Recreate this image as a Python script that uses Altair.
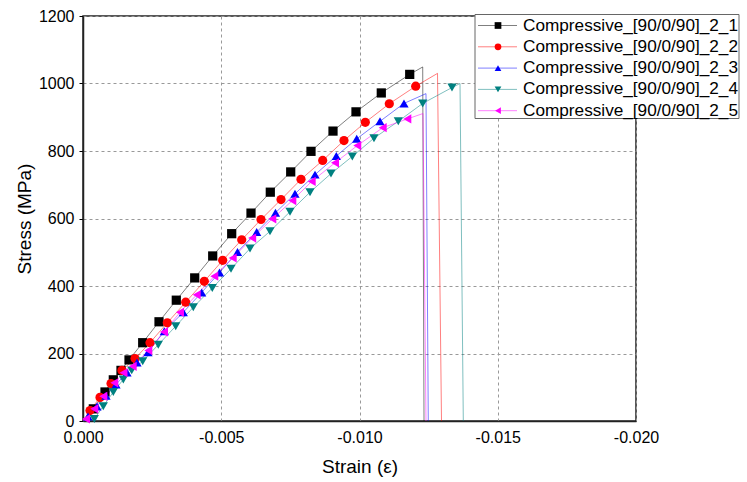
import altair as alt
import pandas as pd

names = [
    "Compressive_[90/0/90]_2_1",
    "Compressive_[90/0/90]_2_2",
    "Compressive_[90/0/90]_2_3",
    "Compressive_[90/0/90]_2_4",
    "Compressive_[90/0/90]_2_5",
]
colors = ["#000000", "#ff0000", "#0000ff", "#008080", "#ff00ff"]
shapes = ["square", "circle", "triangle-up", "triangle-down", "triangle-left"]

# marker points (strain, stress); last two values per series are peak and failure (no marker)
s1_strain = [-0.000373, -0.000796, -0.001096, -0.001374, -0.001664, -0.002159, -0.002749, -0.003374,
             -0.004040, -0.004691, -0.005378, -0.006076, -0.006774, -0.007512, -0.008246, -0.009042,
             -0.009873, -0.010788, -0.011816, -0.012286, -0.012333]
s1_stress = [36, 86, 122, 150, 181, 232, 294, 358, 424, 489, 555, 616, 678, 738, 799, 859, 916, 972, 1027, 1049, 0]

s2_strain = [-0.000253, -0.000615, -0.001013, -0.001410, -0.001881, -0.002423, -0.003049, -0.003714,
             -0.004387, -0.005052, -0.005740, -0.006438, -0.007161, -0.007884, -0.008669, -0.009439,
             -0.010210, -0.011078, -0.012033, -0.012821, -0.012966]
s2_stress = [31, 70, 111, 150, 185, 232, 291, 352, 414, 476, 537, 597, 656, 716, 772, 831, 885, 940, 992, 1030, 0]

s3_strain = [-0.000181, -0.000506, -0.000832, -0.001193, -0.001591, -0.001953, -0.002351, -0.002940,
             -0.003627, -0.004293, -0.004937, -0.005588, -0.006282, -0.006962, -0.007667, -0.008391,
             -0.009161, -0.009899, -0.010741, -0.011609, -0.012405, -0.012488]
s3_stress = [13, 43, 75, 108, 144, 173, 204, 266, 322, 381, 440, 501, 560, 617, 673, 730, 785, 836, 888, 941, 970, 0]

s4_strain = [-0.000409, -0.000734, -0.001096, -0.001458, -0.001761, -0.002159, -0.002723, -0.003353,
             -0.003989, -0.004676, -0.005353, -0.006040, -0.006763, -0.007486, -0.008210, -0.008969,
             -0.009740, -0.010524, -0.011403, -0.012286, -0.013345, -0.013635, -0.013754]
s4_stress = [6, 44, 86, 123, 150, 177, 226, 281, 337, 394, 451, 511, 562, 620, 678, 733, 784, 838, 888, 941, 988, 1000, 0]

s5_strain = [-0.000108, -0.000409, -0.000734, -0.001132, -0.001465, -0.001797, -0.002362, -0.002929,
             -0.003508, -0.004112, -0.004749, -0.005414, -0.006119, -0.006846, -0.007570, -0.008271,
             -0.009114, -0.009920, -0.010839, -0.011729, -0.012297, -0.012405]
s5_stress = [6, 36, 73, 113, 143, 162, 209, 264, 322, 374, 429, 483, 542, 599, 653, 710, 765, 816, 869, 895, 911, 0]

series = [(s1_strain, s1_stress), (s2_strain, s2_stress), (s3_strain, s3_stress),
          (s4_strain, s4_stress), (s5_strain, s5_stress)]

rows = []
for name, (xs, ys) in zip(names, series):
    rows.append({"series": name, "idx": 0, "strain": 0.0, "stress": 0.0, "marker": False})
    n = len(xs)
    for i, (x, y) in enumerate(zip(xs, ys)):
        rows.append({"series": name, "idx": i + 1, "strain": x, "stress": y, "marker": i < n - 2})
df = pd.DataFrame(rows)

color_scale = alt.Scale(domain=names, range=colors)
shape_scale = alt.Scale(domain=names, range=shapes)

x_enc = alt.X("strain:Q", title="Strain (ε)",
              scale=alt.Scale(domain=[0, -0.02], nice=False),
              axis=alt.Axis(values=[0, -0.005, -0.01, -0.015, -0.02],
                            labelExpr="replace(format(datum.value, '.3f'), '\u2212', '-')",
                            labelFlush=False,
                            ticks=False, tickSize=0, labelPadding=8, titlePadding=12,
                            grid=True, gridDash=[3, 3], gridColor="#999999"))
y_enc = alt.Y("stress:Q", title="Stress (MPa)",
              scale=alt.Scale(domain=[0, 1200], nice=False),
              axis=alt.Axis(values=list(range(0, 1201, 100)),
                            labelExpr="datum.value % 200 == 0 ? format(datum.value, 'd') : ''",
                            labelFlush=False,
                            tickSize=4, tickColor="#000000", labelPadding=5, titlePadding=4,
                            grid=True, gridDash=[3, 3], gridColor="#999999",
                            gridOpacity={"condition": {"test": "datum.value % 200 != 0", "value": 0}, "value": 1}))

lines = alt.Chart(df).mark_line(strokeWidth=1, opacity=0.5).encode(
    x=x_enc, y=y_enc,
    color=alt.Color("series:N", scale=color_scale, legend=None),
    detail="series:N",
    order=alt.Order("idx:Q"),
)
points = alt.Chart(df).transform_filter("datum.marker").mark_point(filled=True, size=85, opacity=1).encode(
    x="strain:Q", y="stress:Q",
    color=alt.Color("series:N", scale=color_scale, legend=None),
    shape=alt.Shape("series:N", scale=shape_scale, legend=None),
)
main = alt.layer(lines, points)

leg_df = pd.DataFrame({"series": names})
leg_y = alt.Y("series:N", axis=None,
              scale=alt.Scale(type="point", domain=names, range=[9.5, 94.7], padding=0))
box = alt.Chart(pd.DataFrame({"a": [0]})).mark_rect(fill="white", stroke="#666666", strokeWidth=1).encode(
    x=alt.value(392), x2=alt.value(656), y=alt.value(-1.5), y2=alt.value(102.5))
leg_rule = alt.Chart(leg_df).mark_rule(strokeWidth=1, opacity=0.5).encode(
    x=alt.value(395), x2=alt.value(434), y=leg_y,
    color=alt.Color("series:N", scale=color_scale, legend=None))
leg_pt = alt.Chart(leg_df).mark_point(filled=True, size=45, opacity=1).encode(
    x=alt.value(415), y=leg_y,
    color=alt.Color("series:N", scale=color_scale, legend=None),
    shape=alt.Shape("series:N", scale=shape_scale, legend=None))
leg_txt = alt.Chart(leg_df).mark_text(align="left", baseline="middle", fontSize=17.2,
                                      font="Liberation Sans", color="#000000").encode(
    x=alt.value(440), y=leg_y, text="series:N")
legend = alt.layer(box, leg_rule, leg_pt, leg_txt)

chart = alt.layer(main, legend).resolve_scale(y="independent").properties(
    width=553, height=405,
    autosize=alt.AutoSizeParams(type="none"),
    padding={"left": 83, "top": 16, "right": 111, "bottom": 61},
).configure_view(stroke="#222222", strokeWidth=1.5).configure_axis(
    labelFont="Liberation Sans", titleFont="Liberation Sans",
    labelFontSize=16, titleFontSize=19, titleFontWeight="normal",
    labelColor="#000000", titleColor="#000000",
    domainColor="#222222", domainWidth=1.5,
)

chart.save("out.html", embed_options={"renderer": "svg", "actions": False})
